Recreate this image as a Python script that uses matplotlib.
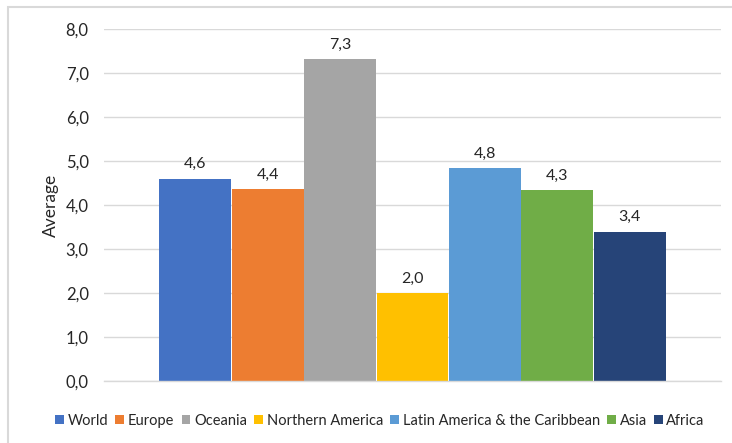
import matplotlib.pyplot as plt
from matplotlib.patches import Rectangle

# %% Data
regions = ["World", "Europe", "Oceania", "Northern America",
           "Latin America & the Caribbean", "Asia", "Africa"]
averages = [4.6, 4.36, 7.32, 2.0, 4.84, 4.34, 3.39]
colors = ["#4472C4", "#ED7D31", "#A5A5A5", "#FFC000", "#5B9BD5", "#70AD47", "#264478"]
y_ticks = [0, 1, 2, 3, 4, 5, 6, 7, 8]

GRID_COLOR = "#D9D9D9"
TEXT_COLOR = "#262626"

plt.rcParams.update({
    "font.family": ["Lato", "DejaVu Sans"],
    "font.size": 11.5,
    "text.color": TEXT_COLOR,
    "axes.labelcolor": TEXT_COLOR,
    "xtick.color": TEXT_COLOR,
    "ytick.color": TEXT_COLOR,
})


def comma(v):
    return f"{v:.1f}".replace(".", ",")


fig = plt.figure(figsize=(7.32, 4.43), dpi=100)
ax = fig.add_axes([104 / 732, 62 / 443, 617 / 732, 352 / 443])

# outer chart frame (right and bottom edges fall outside the canvas)
frame = Rectangle((8 / 732, -0.1), 1.2, 1.1 - 7 / 443,
                  transform=fig.transFigure, fill=False,
                  edgecolor=GRID_COLOR, linewidth=1.5, zorder=10)
fig.add_artist(frame)

n = len(regions)
width = 0.99
for i, (name, val, col) in enumerate(zip(regions, averages, colors)):
    ax.bar(i, val, width=width, color=col, label=name, zorder=2)
    ax.text(i, val + 0.17, comma(val), ha="center", va="bottom", fontsize=11.5)

ax.set_xlim(-0.5 - 55 / 72.3, n - 0.5 + 55 / 72.3)
ax.set_ylim(0, 8)
ax.set_yticks(y_ticks)
ax.set_yticklabels([comma(t) for t in y_ticks], fontsize=12)
ax.set_xticks([])
ax.tick_params(axis="y", length=0, pad=11)
ax.grid(axis="y", color=GRID_COLOR, linewidth=1, zorder=0)
for s in ["top", "right", "left"]:
    ax.spines[s].set_visible(False)
ax.spines["bottom"].set_color(GRID_COLOR)
ax.spines["bottom"].set_linewidth(1)
ax.set_ylabel("Average", fontsize=12.5, labelpad=5)

fig.legend(loc="center", bbox_to_anchor=(380 / 732, 1 - 421 / 443), ncol=n,
           frameon=False, fontsize=10.5, handlelength=0.6, handleheight=0.6,
           handletextpad=0.25, columnspacing=0.5)

fig.savefig("out.png", dpi=100)
